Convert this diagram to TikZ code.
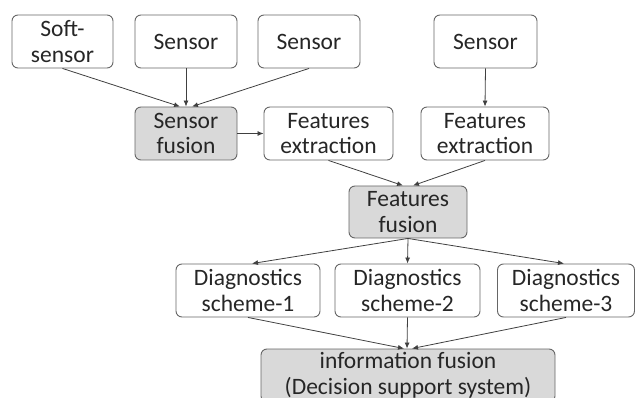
\documentclass[tikz,border=0pt]{standalone}
\usepackage{fontspec}
\setmainfont{Carlito}
\usetikzlibrary{arrows.meta}
\begin{document}
\begin{tikzpicture}[x=1pt,y=-1pt,
  box/.style={draw=black!60, line width=0.9pt, rounded corners=6pt, fill=white,
    minimum height=53pt, inner sep=0pt, align=center,
    font=\fontsize{23.5}{25.5}\selectfont, text=black!85},
  gbox/.style={box, fill=black!15},
  arr/.style={draw=black!75, line width=0.8pt, -{Latex[length=6pt,width=5pt]}}]
\useasboundingbox (0,0) rectangle (635,398);
\clip (0,0) rectangle (635,398);
% top row
\node[box, minimum width=101pt] (ss) at (62.5,41.5) {Soft-\\sensor};
\node[box, minimum width=102pt] (s1) at (186,41.5) {Sensor};
\node[box, minimum width=102pt] (s2) at (309,41.5) {Sensor};
\node[box, minimum width=103pt] (s3) at (485.5,41.5) {Sensor};
% second row
\node[gbox, minimum width=102pt] (sf) at (186,133.5) {Sensor\\fusion};
\node[box, minimum width=129pt] (fe1) at (328.5,133.5) {Features\\extraction};
\node[box, minimum width=128pt] (fe2) at (485,133.5) {Features\\extraction};
% third row
\node[gbox, minimum width=118pt, minimum height=52pt] (ff) at (408,212) {Features\\fusion};
% fourth row
\node[box, minimum width=144pt] (d1) at (248,290.5) {Diagnostics\\scheme-1};
\node[box, minimum width=145pt] (d2) at (407.5,290.5) {Diagnostics\\scheme-2};
\node[box, minimum width=137pt] (d3) at (566,290.5) {Diagnostics\\scheme-3};
% bottom
\node[gbox, minimum width=294pt] (inf) at (408,375.5) {information fusion\\(Decision support system)};
% connectors
\draw[arr] (ss.south) -- ([xshift=-6pt]sf.north);
\draw[arr] (s1.south) -- (sf.north);
\draw[arr] (s2.south) -- ([xshift=6pt]sf.north);
\draw[arr] (sf.east) -- (fe1.west);
\draw[arr] (s3.south) -- (fe2.north);
\draw[arr] (fe1.south) -- ([xshift=-5pt]ff.north);
\draw[arr] (fe2.south) -- ([xshift=5pt]ff.north);
\draw[arr] (ff.south) -- ([xshift=4pt]d1.north);
\draw[arr] (ff.south) -- (d2.north);
\draw[arr] (ff.south) -- ([xshift=-2pt]d3.north);
\draw[arr] (d1.south) -- ([xshift=-4pt]inf.north);
\draw[arr] (d2.south) -- ([xshift=-1pt]inf.north);
\draw[arr] (d3.south) -- ([xshift=4pt]inf.north);
\end{tikzpicture}
\end{document}
